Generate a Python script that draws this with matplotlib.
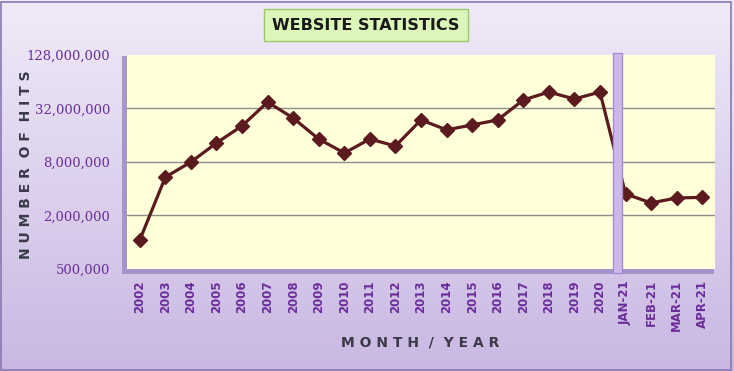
import numpy as np
import matplotlib
matplotlib.use("Agg")
from matplotlib import pyplot as plt
from matplotlib.patches import Rectangle
from matplotlib.ticker import FuncFormatter, FixedLocator, NullLocator

# Datos
labels = ['2002', '2003', '2004', '2005', '2006', '2007', '2008', '2009', '2010',
          '2011', '2012', '2013', '2014', '2015', '2016', '2017', '2018', '2019',
          '2020', 'JAN-21', 'FEB-21', 'MAR-21', 'APR-21']
hits = [1060000, 5400000, 8000000, 13100000, 20400000, 37800000, 25000000,
        14500000, 10100000, 14500000, 12100000, 23800000, 18400000, 20900000,
        23800000, 39900000, 49000000, 41000000, 49000000,
        3500000, 2770000, 3150000, 3200000]
y_ticks = [500000, 2000000, 8000000, 32000000, 128000000]

W, H = 734, 371
fig = plt.figure(figsize=(W / 100, H / 100), dpi=100)

# Fondo degradado lavanda
bg = fig.add_axes([0, 0, 1, 1], zorder=-10)
grad = np.linspace(0, 1, 256).reshape(-1, 1)
top = np.array([0.94, 0.92, 0.97])
bot = np.array([0.79, 0.72, 0.89])
img = top + (bot - top) * grad[:, :, None]
bg.imshow(img, aspect='auto', extent=[0, 1, 0, 1])
bg.set_xlim(0, 1)
bg.set_ylim(0, 1)
bg.axis('off')
bg.add_patch(Rectangle((0.002, 0.004), 0.994, 0.99, fill=False,
                       edgecolor='#8a78b0', lw=1.2, transform=bg.transAxes))

# Sombra del area de grafico
x0, y0 = 127 / W, 1 - 269 / H
aw, ah = 588 / W, 214 / H
bg.add_patch(Rectangle((x0 - 5 / W, y0 - 5 / H), aw + 4 / W, ah + 4 / H,
                       facecolor='#9a86c0', edgecolor='none', alpha=0.8,
                       transform=bg.transAxes))

ax = fig.add_axes([x0, y0, aw, ah])
ax.set_facecolor('#ffffda')
x = np.arange(len(labels))
ax.set_yscale('log', base=2)
ax.set_ylim(500000, 128000000)
ax.set_xlim(-0.5, len(labels) - 0.5)

for v in y_ticks[1:-1]:
    ax.axhline(v, color='#8c8c8c', lw=1.0, zorder=1)

ax.plot(x, hits, color='#5a1a1e', lw=2.3, marker='D', markersize=7,
        markeredgecolor='#5a1a1e', zorder=3)

# Separador entre años y meses
ax.add_patch(Rectangle((18.5, -0.02), 0.36, 1.03, facecolor='#cdb8ea',
                       edgecolor='#a88bd6', lw=1, transform=ax.get_xaxis_transform(),
                       clip_on=False, zorder=4))

ax.yaxis.set_major_locator(FixedLocator(y_ticks))
ax.yaxis.set_minor_locator(NullLocator())
ax.yaxis.set_major_formatter(FuncFormatter(lambda v, p: f'{int(v):,}'))
ax.set_xticks(x)
ax.set_xticklabels(labels, rotation=90, fontsize=8.5, color='#6a2d9a',
                   fontweight='bold')
for t in ax.get_yticklabels():
    t.set_family('DejaVu Serif')
    t.set_fontsize(9.5)
    t.set_color('#6a2d9a')
ax.tick_params(axis='y', length=0, pad=12)
ax.tick_params(axis='x', length=0, pad=8)
for s in ax.spines.values():
    s.set_visible(False)

fig.text(26 / W, 1 - 165 / H, 'N U M B E R  O F  H I T S', fontsize=10,
         fontweight='bold', color='#3a3a48', ha='center', va='center', rotation=90)
fig.text(420 / W, 1 - 342 / H, 'M O N T H  /  Y E A R', fontsize=10,
         fontweight='bold', color='#3a3a48', ha='center', va='center')

# Titulo en caja verde
fig.text(366 / W, 1 - 25 / H, 'WEBSITE STATISTICS', fontsize=11.5, fontweight='bold',
         color='#1a1a1a', ha='center', va='center', family='DejaVu Sans Condensed',
         bbox=dict(boxstyle='square,pad=0.55', facecolor='#dcf5b8',
                   edgecolor='#9cc86e', lw=1))

fig.savefig('out.png', dpi=100)
